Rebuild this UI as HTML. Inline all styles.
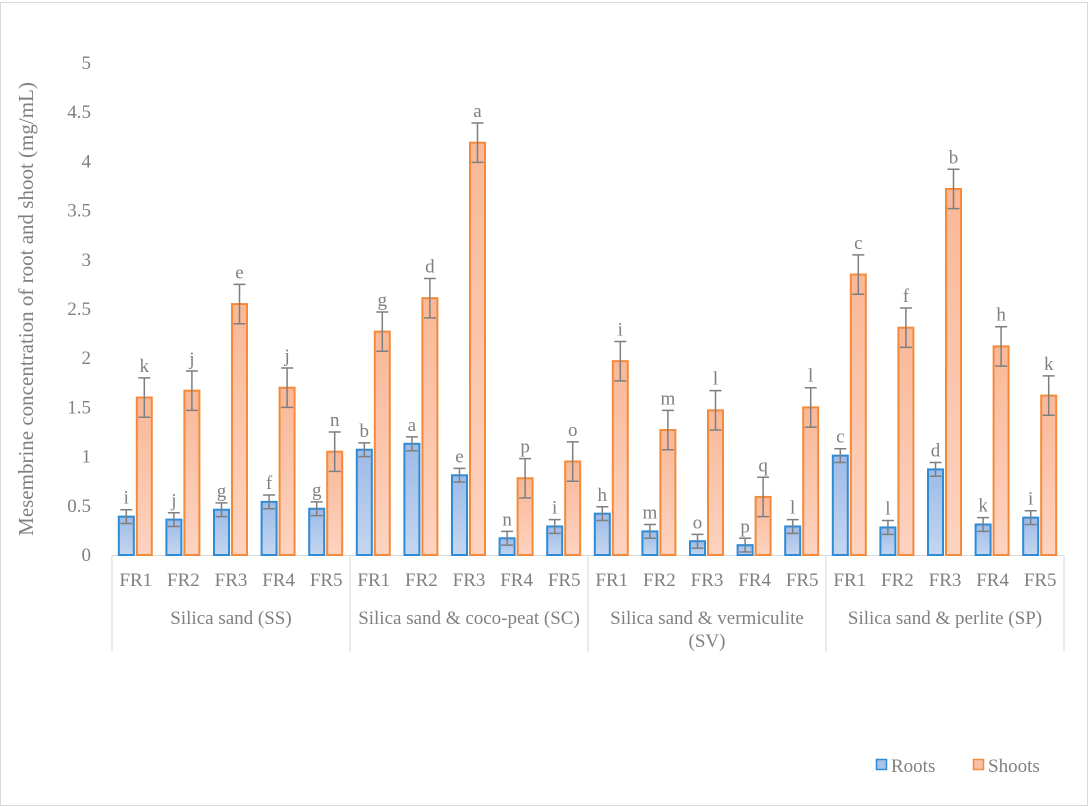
<!DOCTYPE html>
<html><head><meta charset="utf-8"><style>
body{margin:0;background:#fff}
svg{display:block}
text{font-family:"Liberation Serif",serif}
</style></head><body>
<svg id="c" width="1089" height="807">
<rect x="0.5" y="2.5" width="1087" height="803" fill="#fff" stroke="#d9d9d9"/>
<text x="33" y="309" transform="rotate(-90 33 309)" text-anchor="middle" font-size="21" font-family="Liberation Serif, serif" fill="#808080">Mesembrine concentration of root and shoot (mg/mL)</text>
<g id="g"></g>
<g>
<rect x="876.5" y="759.5" width="10" height="10" fill="#a9c1e6" stroke="#2e8bd6" stroke-width="1.5"/>
<text x="891" y="772" font-size="19" font-family="Liberation Serif, serif" fill="#808080">Roots</text>
<rect x="973.5" y="759.5" width="10" height="10" fill="#fbbfa5" stroke="#f58a3a" stroke-width="1.5"/>
<text x="988" y="772" font-size="19" font-family="Liberation Serif, serif" fill="#808080">Shoots</text>
</g>
</svg>
<script>
const groups=["Silica sand (SS)","Silica sand & coco-peat (SC)","Silica sand & vermiculite","Silica sand & perlite (SP)"];
const cats=["FR1","FR2","FR3","FR4","FR5"];
const roots=[0.39,0.36,0.46,0.54,0.47,1.07,1.13,0.81,0.17,0.29,0.42,0.24,0.14,0.10,0.29,1.01,0.28,0.87,0.31,0.38];
const rootsErr=[0.07,0.07,0.07,0.07,0.07,0.07,0.07,0.07,0.07,0.07,0.07,0.07,0.07,0.07,0.07,0.07,0.07,0.07,0.07,0.07];
const shoots=[1.60,1.67,2.55,1.70,1.05,2.27,2.61,4.19,0.78,0.95,1.97,1.27,1.47,0.59,1.50,2.85,2.31,3.72,2.12,1.62];
const shootsErr=[0.2,0.2,0.2,0.2,0.2,0.2,0.2,0.2,0.2,0.2,0.2,0.2,0.2,0.2,0.2,0.2,0.2,0.2,0.2,0.2];
const rootLetters=["i","j","g","f","g","b","a","e","n","i","h","m","o","p","l","c","l","d","k","i"];
const shootLetters=["k","j","e","j","n","g","d","a","p","o","i","m","l","q","l","c","f","b","h","k"];
const yTicks=["0","0.5","1","1.5","2","2.5","3","3.5","4","4.5","5"];
const NS="http://www.w3.org/2000/svg",G=document.getElementById("g");
const y0=555,y5=63,x0=112,x1=1064;
const ys=v=>y0-(v/5)*(y0-y5);
const cw=(x1-x0)/roots.length;
const xc=i=>x0+cw*(i+0.5);
const FF="Liberation Serif, serif";
function mk(t,a,txt){const e=document.createElementNS(NS,t);for(const k in a)e.setAttribute(k,a[k]);if(txt!=null){e.textContent=txt;e.setAttribute("font-family",FF);}G.appendChild(e);return e;}
yTicks.forEach(t=>{const e=mk("text",{x:91,y:ys(+t)+6,"text-anchor":"end","font-size":19,fill:"#808080"},t);

});
let ax=mk("line",{x1:x0,y1:y0+0.5,x2:x1,y2:y0+0.5,stroke:"#d9d9d9"});


for(let g=0;g<=4;g++){const x=x0+g*5*cw;const l=mk("line",{x1:x,y1:y0,x2:x,y2:652,stroke:"#d9d9d9"});

}
groups.forEach((gname,g)=>{const cx=x0+(g*5+2.5)*cw;
const t=mk("text",{x:cx,y:624,"text-anchor":"middle","font-size":19,fill:"#808080"},gname);


if(g==2){const t2=mk("text",{x:cx,y:647,"text-anchor":"middle","font-size":19,fill:"#808080"},"(SV)");

}});
function bar(i,v,err,lab,dx,fill,stroke,name){
const x=xc(i)+dx,w=15;
const r=mk("rect",{x:x,y:ys(v),width:w,height:y0-ys(v),fill:fill,stroke:stroke,"stroke-width":2});


const m=x+w/2,t=ys(v+err),b=ys(v-err);
const e=mk("path",{d:`M${m} ${t}V${b}M${m-6} ${t}H${m+6}M${m-6} ${b}H${m+6}`,stroke:"#7f7f7f","stroke-width":1.5,fill:"none"});


const l=mk("text",{x:m,y:t-6,"text-anchor":"middle","font-size":19,fill:"#808080"},lab);

}
roots.forEach((v,i)=>{
bar(i,v,rootsErr[i],rootLetters[i],-17,"url(#bg)","#2e8bd6","root-bar");
bar(i,shoots[i],shootsErr[i],shootLetters[i],1,"url(#og)","#f58a3a","shoot-bar");
const t=mk("text",{x:xc(i),y:586,"text-anchor":"middle","font-size":19,fill:"#808080"},cats[i%5]);

});
const defs=document.createElementNS(NS,"defs");
defs.innerHTML='<linearGradient id="bg" x1="0" y1="0" x2="0" y2="1"><stop offset="0" stop-color="#9dbbe6"/><stop offset="1" stop-color="#c4d6f0"/></linearGradient><linearGradient id="og" x1="0" y1="0" x2="0" y2="1"><stop offset="0" stop-color="#f9b898"/><stop offset="1" stop-color="#fdd3c0"/></linearGradient>';
document.getElementById("c").prepend(defs);
</script>
</body></html>
